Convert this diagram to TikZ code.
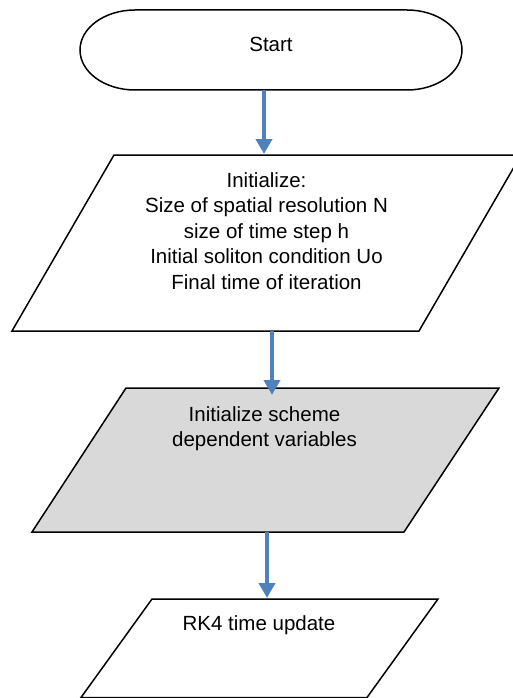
\documentclass[tikz,border=0pt]{standalone}
\usepackage{fontspec}
\setmainfont{Liberation Sans}
\usetikzlibrary{arrows.meta}
\definecolor{flowblue}{RGB}{79,129,189}
\definecolor{grisclair}{RGB}{217,217,217}

\begin{document}
\begin{tikzpicture}[x=1pt, y=-1pt,
  box/.style={draw=black, line width=1.5pt, line join=miter},
  txt/.style={inner sep=0pt, align=center, font=\fontsize{20.5}{25.5}\selectfont},
  flow/.style={draw=flowblue, line width=4.5pt, -{Triangle[width=16pt, length=15pt]}}]
  \useasboundingbox (0,0) rectangle (512,698);

  % start terminal
  \draw[box, fill=white] (135,10) -- (407,10) .. controls (437.4,10) and (462,27.9) .. (462,50)
    .. controls (462,72.1) and (437.4,90) .. (407,90) -- (135,90)
    .. controls (104.6,90) and (80,72.1) .. (80,50)
    .. controls (80,27.9) and (104.6,10) .. (135,10) -- cycle;
  \node[txt, anchor=base] (start) at (271,52) {Start};

  % input boxes
  \draw[box, fill=white] (114,155) -- (521,155) -- (419,331) -- (12,331) -- cycle;
  \node[txt, anchor=north] (init) at (266.5,172.3) {Initialize:\\Size of spatial resolution N\\size of time step h\\Initial soliton condition Uo\\Final time of iteration};

  \draw[box, fill=grisclair] (126,388) -- (499,388) -- (404,532) -- (32,532) -- cycle;
  \node[txt, anchor=north] (scheme) at (264.5,406.3) {Initialize scheme\\dependent variables};

  \draw[box, fill=white] (152,599) -- (438,599) -- (367,697.5) -- (81,697.5) -- cycle;
  \node[txt, anchor=base] (rk) at (259,630) {RK4 time update};

  \coordinate (start-out)  at (264,90);
  \coordinate (init-in)    at (264,154);
  \coordinate (init-out)   at (272,331);
  \coordinate (scheme-in)  at (272,395);
  \coordinate (scheme-out) at (267,532);
  \coordinate (rk-in)      at (267,598);

  \draw[flow] (start-out) -- (init-in);
  \draw[flow] (init-out) -- (scheme-in);
  \draw[flow] (scheme-out) -- (rk-in);

\end{tikzpicture}
\end{document}
